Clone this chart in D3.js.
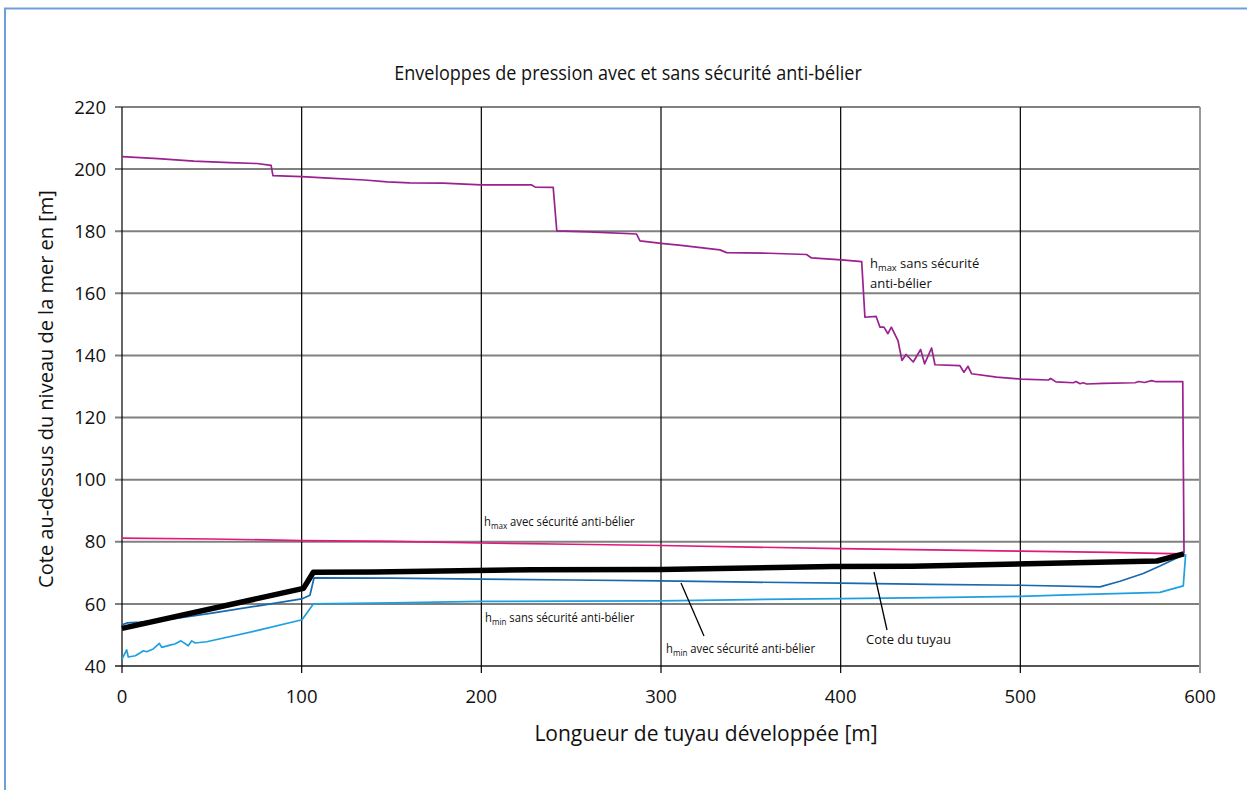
<!DOCTYPE html>
<html><head><meta charset="utf-8">
<script src="https://cdn.jsdelivr.net/npm/d3@7"></script>
<style>body{margin:0;background:#fff}svg{display:block}text{font-family:"Open Sans",sans-serif;fill:#111}</style>
</head><body>
<script>
const title = "Enveloppes de pression avec et sans sécurité anti-bélier";
const xTicks = [0,100,200,300,400,500,600];
const yTicks = [40,60,80,100,120,140,160,180,200,220];

// h_max sans sécurité anti-bélier
const hmaxSans = [[0,204],[20,203.4],[40,202.6],[60,202.1],[75,201.8],[83,201.2],[84,197.9],[100,197.6],[115,197.1],[135,196.5],[147.6,195.9],[160,195.6],[178.7,195.5],[200,194.9],[228,194.9],[230,194.2],[240,194.1],[242,180.1],[260,179.8],[286.4,179.1],[288.3,176.9],[301.3,176.0],[310,175.5],[332.8,174.0],[336.5,173.1],[360,172.9],[381,172.5],[383.8,171.4],[400.5,170.8],[411.7,170.2],[413.5,152.3],[419.7,152.6],[421.9,149.1],[424.1,149.1],[426.3,147.0],[428.2,149.1],[431.9,144.8],[434.1,138.4],[436.4,140.3],[440.4,137.9],[444.5,141.9],[446.7,137.3],[450.6,142.4],[452.5,137.0],[466.4,136.7],[468.6,134.6],[470.9,136.5],[472.9,134.1],[486.8,133.0],[500.7,132.4],[515.6,132.1],[516.9,132.6],[519.8,131.5],[529.5,131.2],[531,131.6],[533.2,130.9],[535,131.2],[536.9,130.8],[546,131.0],[563.8,131.2],[566,131.6],[569,131.3],[573.1,131.9],[575,131.6],[590.4,131.6],[591.1,76.2]];
// h_max avec sécurité anti-bélier
const hmaxAvec = [[0,81.2],[50,80.9],[100,80.4],[150,80.1],[200,79.6],[250,79.2],[300,78.8],[350,78.3],[400,77.8],[450,77.4],[500,77.0],[550,76.6],[591,76.1]];
// Cote du tuyau
const pipe = [[0,52.1],[101,65.0],[106.5,70.2],[140,70.3],[228,71.0],[300,71.1],[395,72.0],[440,72.1],[576,73.8],[591,76.1]];
// h_min avec sécurité anti-bélier
const hminAvec = [[0,53.3],[3,53.9],[10,54.1],[20,54.7],[30,55.3],[50,57.0],[75,59.3],[100,61.6],[104.6,62.8],[106.9,68.4],[150,68.3],[200,68.0],[250,67.7],[300,67.4],[350,67.0],[400,66.7],[450,66.3],[500,66.0],[544.3,65.5],[555.5,67.3],[568.4,69.8],[577.7,72.2],[591.5,76.0]];
// h_min sans sécurité anti-bélier
const hminSans = [[0,42.2],[2.6,45.2],[3.5,42.9],[7.4,43.3],[10,44.2],[11.9,44.9],[13.7,44.6],[17.4,45.5],[20.8,47.3],[22.1,46.0],[26.7,46.7],[29.4,47.1],[32.8,48.1],[36.9,46.5],[38.8,48.1],[40.7,47.4],[47.1,47.8],[75,51.4],[100.2,54.9],[106.5,60.0],[150,60.3],[200,60.8],[250,60.9],[300,61.0],[350,61.4],[400,61.7],[450,62.0],[500,62.4],[522,62.8],[577.7,63.7],[590.7,65.8],[592,76.0]];

const W = 1247, H = 790;
const svg = d3.select("body").append("svg").attr("width", W).attr("height", H);
const x = d3.scaleLinear().domain([0,600]).range([122,1200]);
const y = d3.scaleLinear().domain([40,220]).range([666,107]);

// outer frame
svg.append("rect").attr("x",5).attr("y",8.5).attr("width",W+10).attr("height",H+10)
  .attr("fill","none").attr("stroke","#6f9fd6").attr("stroke-width",2);

// horizontal grid (gray)
svg.append("g").selectAll("line").data(yTicks).join("line")
  .attr("x1",115).attr("x2",1200).attr("y1",d=>y(d)).attr("y2",d=>y(d))
  .attr("stroke",d=>d===40?"#555":"#808080").attr("stroke-width",2);
// vertical grid (black)
svg.append("g").selectAll("line").data(xTicks).join("line")
  .attr("x1",d=>x(d)).attr("x2",d=>x(d)).attr("y1",107).attr("y2",673)
  .attr("stroke",d=>d===600?"#999":"#000").attr("stroke-width",d=>d===600?2:1.2);

// tick labels
svg.append("g").selectAll("text").data(yTicks).join("text")
  .attr("x",106).attr("y",d=>y(d)).attr("dy","0.36em").attr("text-anchor","end")
  .attr("font-size",18.5).text(d=>d);
svg.append("g").selectAll("text").data(xTicks).join("text")
  .attr("x",d=>x(d)).attr("y",703).attr("text-anchor","middle")
  .attr("font-size",18.5).text(d=>d);

// title & axis titles
svg.append("g").attr("transform","translate(628,80) scale(0.88,1)")
  .append("text").attr("text-anchor","middle").attr("font-size",20.5).text(title);
svg.append("text").attr("x",706).attr("y",741).attr("text-anchor","middle").attr("font-size",21).text("Longueur de tuyau développée [m]");
svg.append("text").attr("transform","translate(53,389) rotate(-90)").attr("text-anchor","middle").attr("font-size",20).text("Cote au-dessus du niveau de la mer en [m]");

const line = d3.line().x(d=>x(d[0])).y(d=>y(d[1]));
const series = [
  {d:hmaxAvec, c:"#e0197d", w:1.7},
  {d:hminSans, c:"#1ea0e0", w:1.7},
  {d:hminAvec, c:"#1a68ad", w:1.7},
  {d:hmaxSans, c:"#9b2090", w:1.7},
  {d:pipe, c:"#000", w:5.5}
];
svg.append("g").selectAll("path").data(series).join("path")
  .attr("d",s=>line(s.d)).attr("fill","none").attr("stroke",s=>s.c).attr("stroke-width",s=>s.w)
  .attr("stroke-linejoin","round");

// leader lines
svg.append("line").attr("x1",681).attr("y1",583).attr("x2",704).attr("y2",636).attr("stroke","#000").attr("stroke-width",1.3);
svg.append("line").attr("x1",874).attr("y1",572).attr("x2",887).attr("y2",630).attr("stroke","#000").attr("stroke-width",1.3);

function label(px, py, sub, rest, fs, sx){
  const t = svg.append("g").attr("transform",`translate(${px},${py}) scale(${sx},1)`)
    .append("text").attr("font-size",fs);
  t.append("tspan").text("h");
  t.append("tspan").attr("font-size",fs*0.72).attr("dy",2.5).text(sub);
  t.append("tspan").attr("dy",-2.5).text(" " + rest);
}
label(870,268,"max","sans sécurité",13,1);
svg.append("text").attr("x",870).attr("y",288).attr("font-size",13).text("anti-bélier");
label(484,526,"max","avec sécurité anti-bélier",12.8,0.88);
label(485,622,"min","sans sécurité anti-bélier",12.8,0.88);
label(666,653,"min","avec sécurité anti-bélier",12.8,0.88);
svg.append("text").attr("x",866).attr("y",644).attr("font-size",13).text("Cote du tuyau");
</script>
</body></html>
